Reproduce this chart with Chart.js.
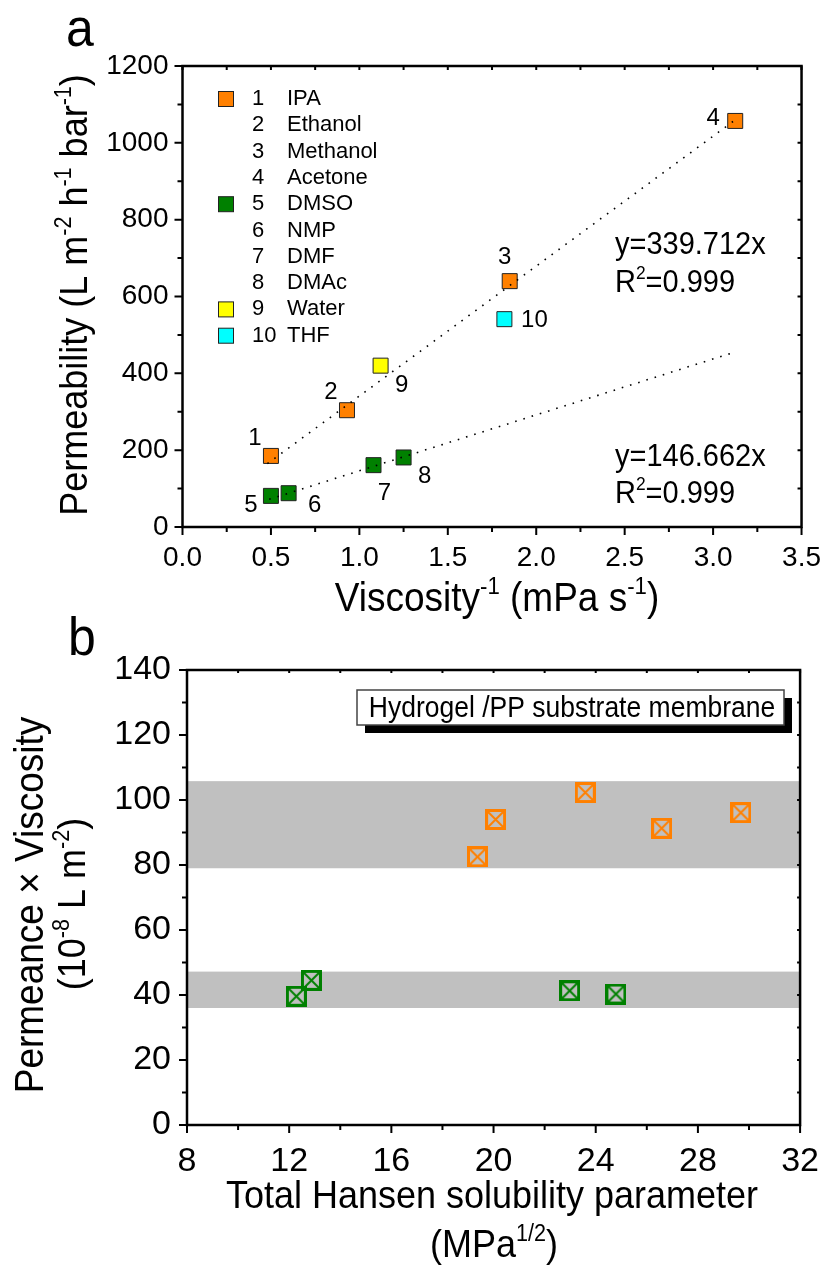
<!DOCTYPE html>
<html>
<head>
<meta charset="utf-8">
<script src="https://cdn.jsdelivr.net/npm/chart.js@4.4.1/dist/chart.umd.min.js"></script>
<style>
  html, body { margin: 0; padding: 0; background: #fff; }
  #wrap { position: relative; width: 835px; height: 1268px; }
  canvas { position: absolute; left: 0; }
  #chartA { top: 0; }
  #chartB { top: 600px; }
</style>
</head>
<body>
<div id="wrap">
  <canvas id="chartA" width="835" height="640"></canvas>
  <canvas id="chartB" width="835" height="668"></canvas>
</div>
<script>
// ---- panel a data ----
const solventIds = ['1', '2', '3', '4', '5', '6', '7', '8', '9', '10'];
const solventNames = ['IPA', 'Ethanol', 'Methanol', 'Acetone', 'DMSO', 'NMP', 'DMF', 'DMAc', 'Water', 'THF'];
const invViscosity = [0.50, 0.93, 1.85, 3.125, 0.50, 0.60, 1.08, 1.25, 1.12, 1.82];
const permeability = [185, 304, 640, 1057, 81, 88, 161, 181, 420, 541];
const solventColors = ['#ff8000', '#ff8000', '#ff8000', '#ff8000', '#008000', '#008000', '#008000', '#008000', '#ffff00', '#00ffff'];
const legendSwatch = [true, false, false, false, true, false, false, false, true, true];

// dotted fit lines (end points)
const fitUpperX = [0.48, 3.12];
const fitUpperY = [165, 1058];
const fitLowerX = [0.49, 3.10];
const fitLowerY = [72, 452];
const fitUpperText = ['y=339.712x', '0.999'];
const fitLowerText = ['y=146.662x', '0.999'];

const xTicksA = { min: 0, max: 3.5, major: 0.5, minor: 0.25 };
const yTicksA = { min: 0, max: 1200, major: 200, minor: 100 };

// ---- panel b data ----
const hansenOrange = [19.37, 20.08, 23.59, 26.58, 29.68];
const pvOrange = [82.5, 94.0, 102.3, 91.3, 96.1];
const hansenGreen = [12.28, 12.87, 22.98, 24.79];
const pvGreen = [39.6, 44.5, 41.3, 40.3];
const bandLow = [79, 36];
const bandHigh = [105.8, 47.2];

const xTicksB = { min: 8, max: 32, major: 4, minor: 2 };
const yTicksB = { min: 0, max: 140, major: 20, minor: 10 };

const FONT = '"Liberation Sans", Arial, sans-serif';

// label offsets in px from each marker (style only)
const labelOffsets = [[-16, -18], [-16, -18], [-5, -24], [-22, -3], [-20, 9], [26, 12], [11, 28], [21, 19], [21, 20], [30, 1]];

function richWidth(ctx, parts, size) {
    let w = 0;
    for (const [t, sup] of parts) {
        ctx.font = (sup ? size * 0.6 : size) + 'px ' + FONT;
        w += ctx.measureText(t).width;
    }
    return w;
}

// draws text with superscripts; x = centre (or left), y = baseline; slightly condensed like the original
function drawRich(ctx, parts, x, y, size, rot, align) {
    const squeeze = 0.92;
    size = size / squeeze;
    ctx.save();
    ctx.translate(x, y);
    ctx.rotate(rot || 0);
    ctx.scale(squeeze, 1);
    const w = richWidth(ctx, parts, size);
    let cx = align === 'left' ? 0 : -w / 2;
    ctx.textAlign = 'left';
    ctx.textBaseline = 'alphabetic';
    ctx.fillStyle = '#000';
    for (const [t, sup] of parts) {
        const s = sup ? size * 0.6 : size;
        ctx.font = s + 'px ' + FONT;
        ctx.fillText(t, cx, sup ? -size * 0.42 : 0);
        cx += ctx.measureText(t).width;
    }
    ctx.restore();
}

// frame + major/minor ticks, drawn through the chart scales
function drawFrame(chart, xt, yt, inner) {
    const { ctx, chartArea: a, scales: { x, y } } = chart;
    ctx.save();
    ctx.strokeStyle = '#000';
    ctx.lineWidth = 2.5;
    ctx.strokeRect(a.left, a.top, a.right - a.left, a.bottom - a.top);
    ctx.lineWidth = 2;
    ctx.beginPath();
    const nx = Math.round((xt.max - xt.min) / xt.minor);
    for (let i = 0; i <= nx; i++) {
        const v = xt.min + i * xt.minor;
        const px = x.getPixelForValue(v);
        const len = i % Math.round(xt.major / xt.minor) === 0 ? 8 : 5;
        ctx.moveTo(px, a.bottom); ctx.lineTo(px, a.bottom + len);
        ctx.moveTo(px, a.top); ctx.lineTo(px, a.top + inner);
    }
    const ny = Math.round((yt.max - yt.min) / yt.minor);
    for (let i = 0; i <= ny; i++) {
        const v = yt.min + i * yt.minor;
        const py = y.getPixelForValue(v);
        const len = i % Math.round(yt.major / yt.minor) === 0 ? 8 : 5;
        ctx.moveTo(a.left, py); ctx.lineTo(a.left - len, py);
        ctx.moveTo(a.right, py); ctx.lineTo(a.right - inner, py);
    }
    ctx.stroke();
    ctx.restore();
}

const decorA = {
    id: 'decorA',
    afterDraw(chart) {
        const { ctx, scales: { x, y } } = chart;
        drawFrame(chart, xTicksA, yTicksA, 4);

        ctx.save();
        // legend
        solventIds.forEach((id, i) => {
            const cy = 99 + i * 26.3;
            if (legendSwatch[i]) {
                ctx.fillStyle = solventColors[i];
                ctx.fillRect(218.5, cy - 7.5, 15, 15);
                ctx.strokeStyle = '#222';
                ctx.lineWidth = 1;
                ctx.strokeRect(218.5, cy - 7.5, 15, 15);
            }
            ctx.fillStyle = '#000';
            ctx.font = '22px ' + FONT;
            ctx.textAlign = 'left';
            ctx.textBaseline = 'middle';
            ctx.fillText(id, 252, cy);
            ctx.fillText(solventNames[i], 287, cy);
        });

        // point labels
        ctx.font = '24px ' + FONT;
        ctx.textAlign = 'center';
        ctx.textBaseline = 'middle';
        solventIds.forEach((id, i) => {
            const px = x.getPixelForValue(invViscosity[i]);
            const py = y.getPixelForValue(permeability[i]);
            ctx.fillText(id, px + labelOffsets[i][0], py + labelOffsets[i][1]);
        });
        ctx.restore();

        // fit equations
        drawRich(ctx, [[fitUpperText[0], false]], 615, 254, 29, 0, 'left');
        drawRich(ctx, [['R', false], ['2', true], ['=' + fitUpperText[1], false]], 615, 292, 29, 0, 'left');
        drawRich(ctx, [[fitLowerText[0], false]], 615, 466, 29, 0, 'left');
        drawRich(ctx, [['R', false], ['2', true], ['=' + fitLowerText[1], false]], 615, 503, 29, 0, 'left');

        // axis titles
        drawRich(ctx, [['Viscosity', false], ['-1', true], [' (mPa s', false], ['-1', true], [')', false]], 497, 611, 37);
        drawRich(ctx, [['Permeability (L m', false], ['-2', true], [' h', false], ['-1', true], [' bar', false], ['-1', true], [')', false]],
            87, 295, 36, -Math.PI / 2);

        // panel letter
        drawRich(ctx, [['a', false]], 66, 46, 50, 0, 'left');
    }
};

function crossBox(color) {
    const c = document.createElement('canvas');
    c.width = 21; c.height = 21;
    const g = c.getContext('2d');
    g.strokeStyle = color;
    g.lineWidth = 3;
    g.strokeRect(1.5, 1.5, 18, 18);
    g.lineWidth = 2;
    g.beginPath();
    g.moveTo(3, 3); g.lineTo(18, 18);
    g.moveTo(18, 3); g.lineTo(3, 18);
    g.stroke();
    return c;
}

const bandsB = {
    id: 'bandsB',
    beforeDatasetsDraw(chart) {
        const { ctx, chartArea: a, scales: { y } } = chart;
        ctx.save();
        ctx.fillStyle = '#c0c0c0';
        bandLow.forEach((lo, i) => {
            const top = y.getPixelForValue(bandHigh[i]);
            const bot = y.getPixelForValue(lo);
            ctx.fillRect(a.left, top, a.right - a.left, bot - top);
        });
        ctx.restore();
    }
};

const decorB = {
    id: 'decorB',
    afterDraw(chart) {
        const { ctx } = chart;
        drawFrame(chart, xTicksB, yTicksB, 3);

        // label box with shadow
        ctx.save();
        ctx.fillStyle = '#000';
        ctx.fillRect(365, 98, 427, 35);
        ctx.fillStyle = '#fff';
        ctx.fillRect(357, 90, 427, 35);
        ctx.strokeStyle = '#444';
        ctx.lineWidth = 1.5;
        ctx.strokeRect(357, 90, 427, 35);
        ctx.restore();
        drawRich(ctx, [['Hydrogel /PP substrate membrane', false]], 572, 117, 26.5);

        // axis titles
        drawRich(ctx, [['Total Hansen solubility parameter', false]], 492, 608, 36);
        drawRich(ctx, [['(MPa', false], ['1/2', true], [')', false]], 494, 657, 36);
        drawRich(ctx, [['Permeance \u00d7 Viscosity', false]], 43, 305, 37, -Math.PI / 2);
        drawRich(ctx, [['(10', false], ['-8', true], [' L m', false], ['-2', true], [')', false]], 85, 304, 36, -Math.PI / 2);

        drawRich(ctx, [['b', false]], 68, 55, 50, 0, 'left');
    }
};

function tickOpts(size, pad, fmt) {
    return {
        color: '#000',
        font: { family: FONT, size: size },
        padding: pad,
        maxRotation: 0,
        autoSkip: false,
        callback: fmt
    };
}

// Chart a: permeability vs inverse viscosity
new Chart(document.getElementById('chartA').getContext('2d'), {
    type: 'scatter',
    data: {
        datasets: [
            {
                type: 'line',
                label: 'fit upper',
                data: fitUpperX.map((v, i) => ({ x: v, y: fitUpperY[i] })),
                borderColor: '#000',
                borderWidth: 1.6,
                borderDash: [1.6, 7],
                pointRadius: 0,
                fill: false,
                order: 0
            },
            {
                type: 'line',
                label: 'fit lower',
                data: fitLowerX.map((v, i) => ({ x: v, y: fitLowerY[i] })),
                borderColor: '#000',
                borderWidth: 1.6,
                borderDash: [1.6, 7],
                pointRadius: 0,
                fill: false,
                order: 0
            },
            {
                label: 'solvents',
                data: invViscosity.map((v, i) => ({ x: v, y: permeability[i] })),
                pointStyle: 'rect',
                pointRadius: 10.6,
                pointBackgroundColor: solventColors,
                pointBorderColor: '#222',
                pointBorderWidth: 1,
                order: 1
            }
        ]
    },
    options: {
        responsive: false,
        animation: false,
        layout: { padding: { left: 0, right: 25.5, top: 66, bottom: 0 } },
        plugins: { legend: { display: false }, tooltip: { enabled: false } },
        scales: {
            x: {
                type: 'linear',
                min: xTicksA.min,
                max: xTicksA.max,
                grid: { display: false, drawTicks: false },
                border: { display: false },
                ticks: Object.assign(tickOpts(28, 14, v => v.toFixed(1)), { stepSize: xTicksA.major }),
                afterFit: s => { s.height = 113; }
            },
            y: {
                min: yTicksA.min,
                max: yTicksA.max,
                grid: { display: false, drawTicks: false },
                border: { display: false },
                ticks: Object.assign(tickOpts(28, 14, v => v), { stepSize: yTicksA.major }),
                afterFit: s => { s.width = 182.5; }
            }
        }
    },
    plugins: [decorA]
});

// Chart b: permeance x viscosity vs Hansen parameter
new Chart(document.getElementById('chartB').getContext('2d'), {
    type: 'scatter',
    data: {
        datasets: [
            {
                label: 'orange',
                data: hansenOrange.map((v, i) => ({ x: v, y: pvOrange[i] })),
                pointStyle: crossBox('#ff8000'),
                pointRadius: 10
            },
            {
                label: 'green',
                data: hansenGreen.map((v, i) => ({ x: v, y: pvGreen[i] })),
                pointStyle: crossBox('#008000'),
                pointRadius: 10
            }
        ]
    },
    options: {
        responsive: false,
        animation: false,
        layout: { padding: { left: 0, right: 33.4, top: 70, bottom: 0 } },
        plugins: { legend: { display: false }, tooltip: { enabled: false } },
        scales: {
            x: {
                type: 'linear',
                min: xTicksB.min,
                max: xTicksB.max,
                grid: { display: false, drawTicks: false },
                border: { display: false },
                ticks: Object.assign(tickOpts(34, 16, v => v), { stepSize: xTicksB.major }),
                afterFit: s => { s.height = 143; }
            },
            y: {
                min: yTicksB.min,
                max: yTicksB.max,
                grid: { display: false, drawTicks: false },
                border: { display: false },
                ticks: Object.assign(tickOpts(34, 16, v => v), { stepSize: yTicksB.major }),
                afterFit: s => { s.width = 187; }
            }
        }
    },
    plugins: [bandsB, decorB]
});
</script>
</body>
</html>
